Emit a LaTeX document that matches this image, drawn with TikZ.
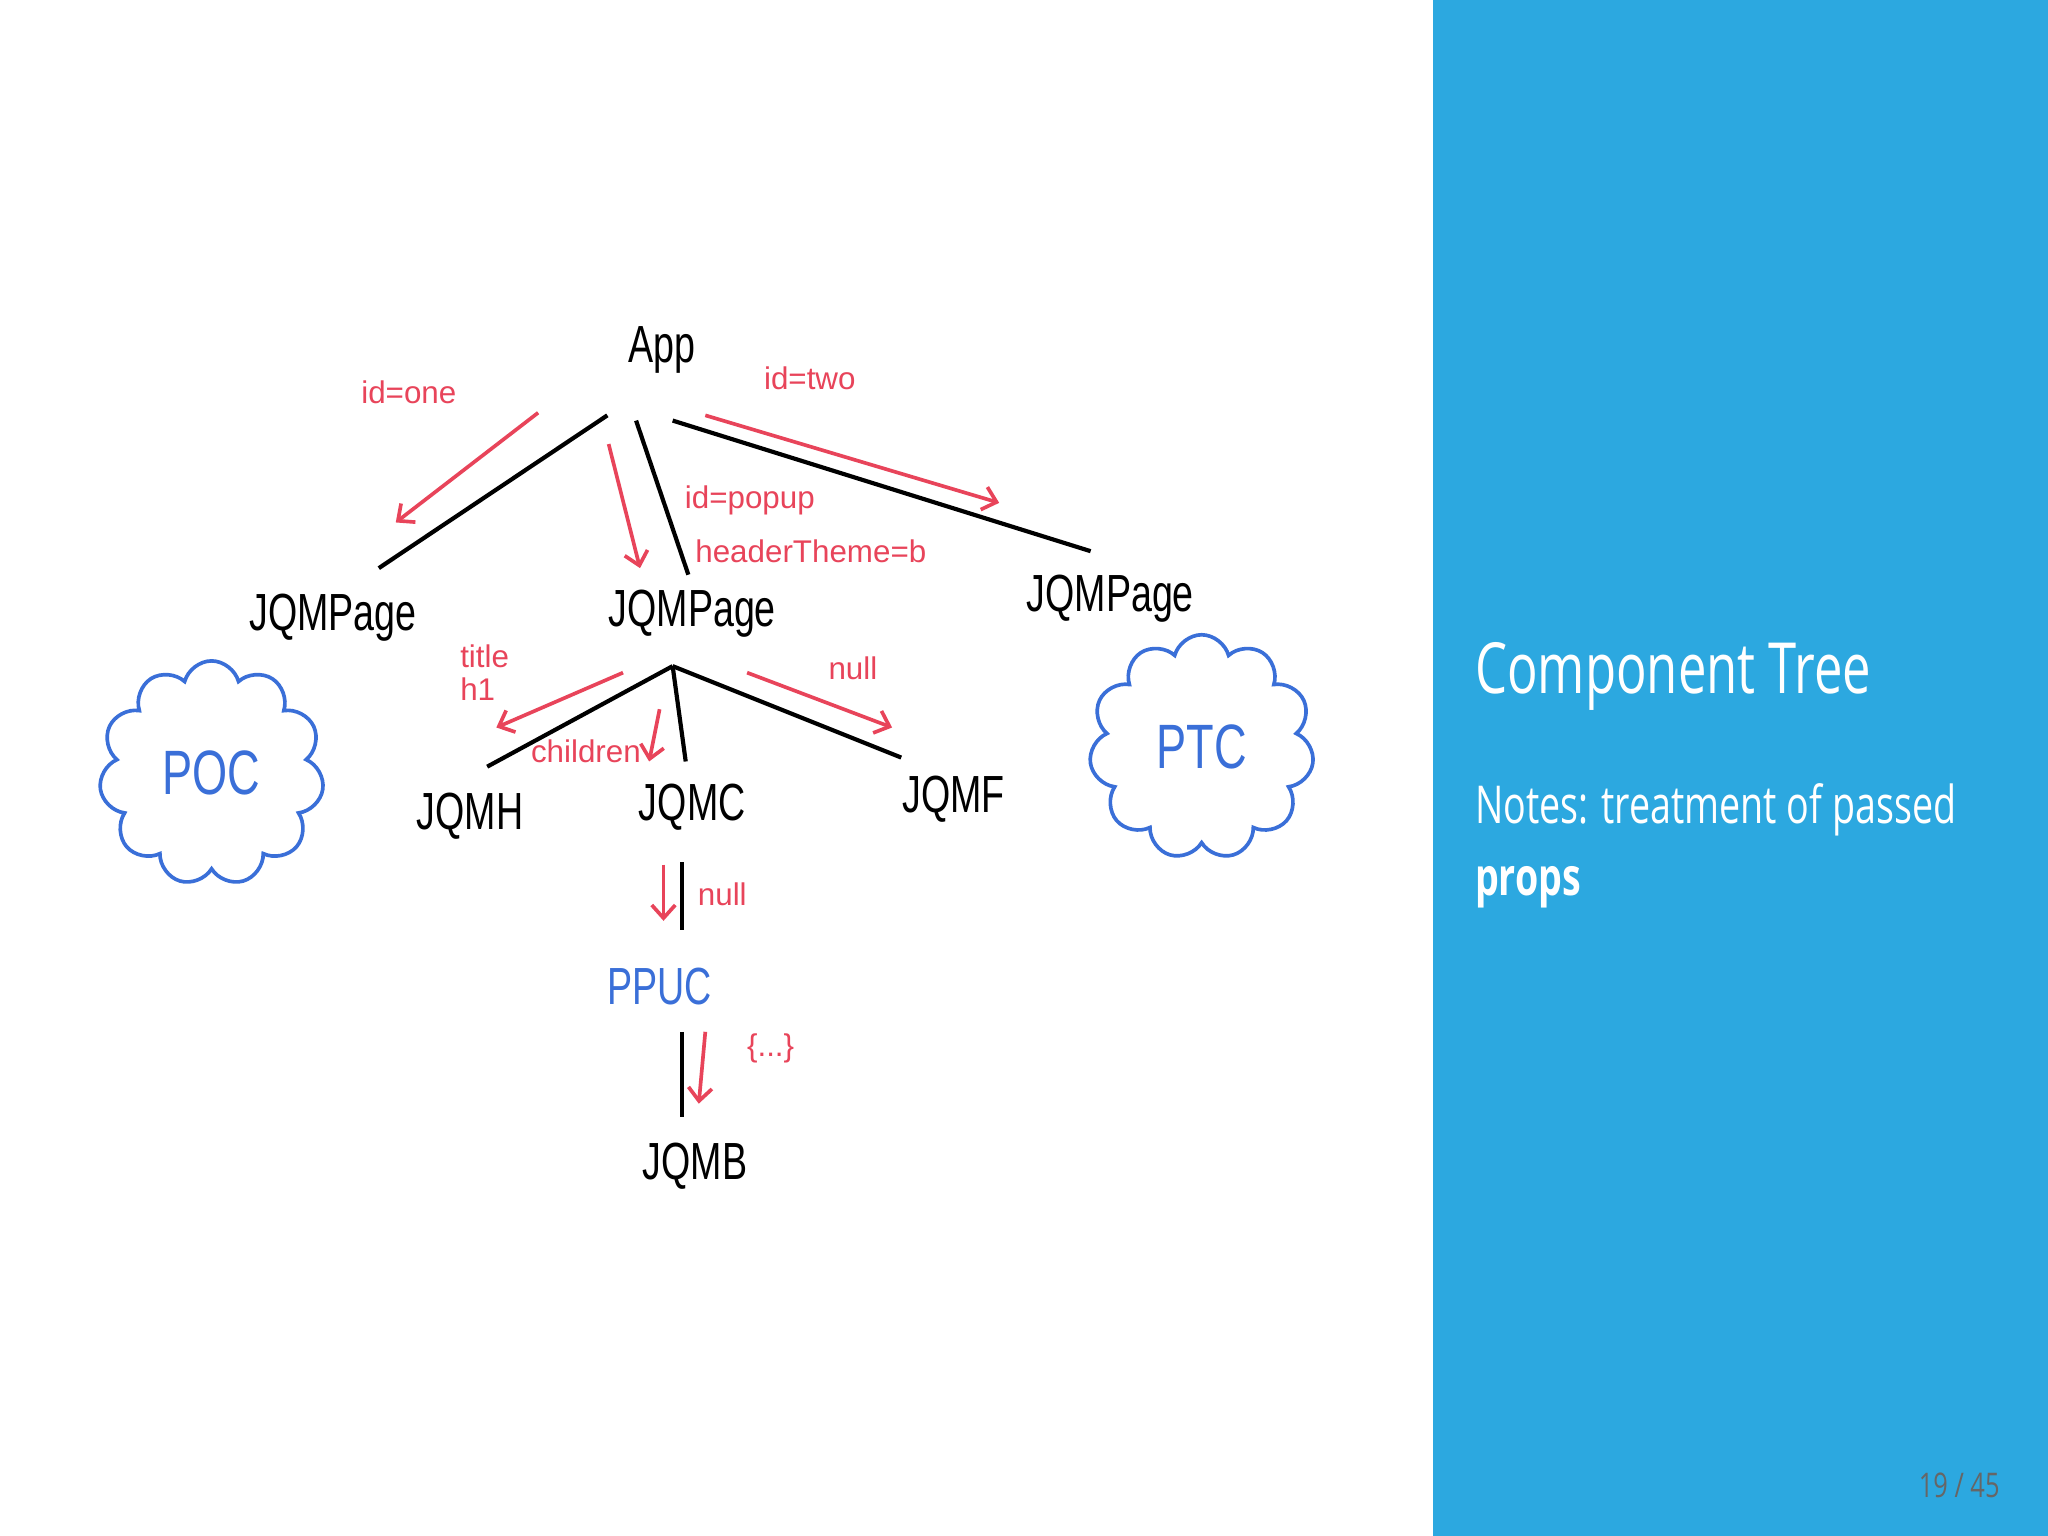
\documentclass[tikz,border=0pt]{standalone}
\usepackage{fontspec}
\setmainfont{Open Sans}
\newfontfamily\hand{Liberation Sans}
\usetikzlibrary{shapes.symbols,arrows.meta}
\definecolor{panel}{HTML}{2CA8E0}
\definecolor{redpen}{HTML}{E8445A}
\definecolor{bluepen}{HTML}{3A6FD8}
\newcommand{\cond}[2][0.72]{\scalebox{#1}[1]{#2}}
\begin{document}
\begin{tikzpicture}[x=0.5pt,y=-0.5pt,
  comp/.style={font=\hand\fontsize{20}{22}\selectfont,inner sep=1pt},
  lab/.style={font=\hand\fontsize{12}{13}\selectfont,text=redpen,inner sep=1pt,align=left},
  edge/.style={line width=1.6pt,black},
  prop/.style={line width=1.4pt,redpen,-{Straight Barb[length=5pt,width=9pt]}},
  cloudy/.style={cloud,cloud puffs=11,draw=bluepen,line width=1.4pt,text=bluepen,font=\hand\fontsize{24}{26}\selectfont,minimum width=86pt,minimum height=86pt,aspect=1}]
\useasboundingbox (0,0) rectangle (1568,1176);
\fill[white] (0,0) rectangle (1097,1176);
\fill[panel] (1097,0) rectangle (1568,1176);
\node[anchor=west,text=white,font=\fontsize{27}{30}\selectfont,inner sep=0pt] (title) at (1129,518) {\cond{Component Tree}};
\node[anchor=west,text=white,font=\fontsize{20}{24}\selectfont,inner sep=0pt] (n1) at (1129,620) {\cond{Notes: treatment of passed}};
\node[anchor=west,text=white,font=\bfseries\fontsize{20}{24}\selectfont,inner sep=0pt] (n2) at (1129,679) {\cond{props}};
\node[text=black!60,font=\fontsize{13}{15}\selectfont] (pg) at (1500,1137) {\cond[0.75]{19 / 45}};
% components
\node[comp] (app) at (507,268) {\cond{App}};
\node[comp] (pl) at (255,473) {\cond{JQMPage}};
\node[comp] (pm) at (530,470) {\cond{JQMPage}};
\node[comp] (pr) at (850,458) {\cond{JQMPage}};
\node[comp] (h) at (360,625) {\cond{JQMH}};
\node[comp] (c) at (530,618) {\cond{JQMC}};
\node[comp] (f) at (730,612) {\cond{JQMF}};
\node[comp,text=bluepen] (ppuc) at (505,755) {\cond{PPUC}};
\node[comp] (b) at (532,893) {\cond{JQMB}};
\node[cloudy] (poc) at (162,592) {\cond{POC}};
\node[cloudy] (ptc) at (920,572) {\cond{PTC}};
% tree edges
\coordinate (a1) at (465,318); \coordinate (a2) at (487,322); \coordinate (a3) at (515,322);
\coordinate (l1) at (290,435); \coordinate (m1) at (527,440); \coordinate (r1) at (835,422);
\draw[edge] (a1) -- (l1);
\draw[edge] (a2) -- (m1);
\draw[edge] (a3) -- (r1);
\coordinate (mb) at (515,510);
\coordinate (hh) at (373,587); \coordinate (cc) at (525,583); \coordinate (ff) at (690,580);
\draw[edge] (mb) -- (hh);
\draw[edge] (mb) -- (cc);
\draw[edge] (mb) -- (ff);
\coordinate (c1) at (522,660); \coordinate (c2) at (522,712);
\draw[edge] (c1) -- (c2);
\coordinate (p1) at (522,790); \coordinate (p2) at (522,855);
\draw[edge] (p1) -- (p2);
% prop arrows
\draw[prop] (412,316) coordinate (q1) -- (303,400) coordinate (q2);
\draw[prop] (466,340) coordinate (q3) -- (490,435) coordinate (q4);
\draw[prop] (540,318) coordinate (q5) -- (765,385) coordinate (q6);
\draw[prop] (477,515) coordinate (q7) -- (380,557) coordinate (q8);
\draw[prop] (505,543) coordinate (q9) -- (497,583) coordinate (q10);
\draw[prop] (572,515) coordinate (q11) -- (683,557) coordinate (q12);
\draw[prop] (508,662) coordinate (q13) -- (508,705) coordinate (q14);
\draw[prop] (540,790) coordinate (q15) -- (535,845) coordinate (q16);
% labels
\node[lab] (l_one) at (313,300) {id=one};
\node[lab] (l_two) at (620,290) {id=two};
\node[lab,anchor=west] (l_pop) at (522,383) {id=popup};
\node[lab,anchor=west] (l_ht) at (530,422) {headerTheme=b};
\node[lab,anchor=west] (l_title) at (350,515) {title\\h1};
\node[lab,anchor=east] (l_ch) at (493,575) {children};
\node[lab] (l_n1) at (653,512) {null};
\node[lab] (l_n2) at (553,685) {null};
\node[lab] (l_obj) at (590,803) {\{...\}};
\end{tikzpicture}
\end{document}
